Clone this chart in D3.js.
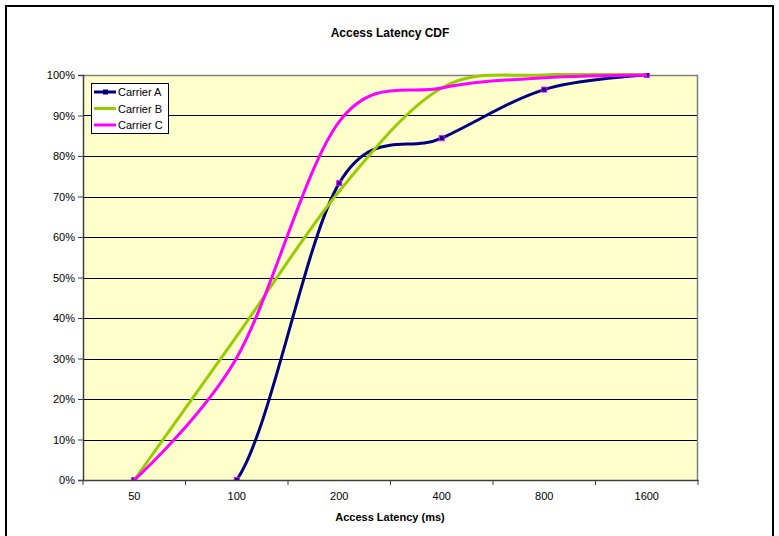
<!DOCTYPE html>
<html>
<head>
<meta charset="utf-8">
<script src="https://cdn.jsdelivr.net/npm/d3@7"></script>
<style>
  html, body { margin: 0; padding: 0; background: #fff; }
  svg { display: block; font-family: "Liberation Sans", Arial, sans-serif; }
</style>
</head>
<body>
<svg id="chart" width="779" height="536"></svg>
<script>
// ---- data ----
const categories = ["50", "100", "200", "400", "800", "1600"];
const carrierA = [0, 0, 0.733, 0.844, 0.964, 1.0];
const carrierB = [0, 0.355, 0.713, 0.968, 1.0, 1.0];
const carrierC = [0, 0.302, 0.885, 0.968, 0.993, 1.0];
const seriesNames = ["Carrier A", "Carrier B", "Carrier C"];
const seriesColors = ["#000080", "#99CC00", "#FF00FF"];
const yTicks = [0, 0.1, 0.2, 0.3, 0.4, 0.5, 0.6, 0.7, 0.8, 0.9, 1.0];
const title = "Access Latency CDF";
const xTitle = "Access Latency (ms)";

const series = [carrierA, carrierB, carrierC];

// ---- layout ----
const svg = d3.select("#chart");
const W = 779, H = 536;
const plot = { left: 83, right: 698, top: 75, bottom: 480 };

// outer border
svg.append("rect")
  .attr("x", 6).attr("y", 6).attr("width", 767).attr("height", 540)
  .attr("fill", "none").attr("stroke", "#000").attr("stroke-width", 2);

const x = d3.scaleBand().domain(categories).range([plot.left, plot.right]).padding(0);
const xc = d => x(d) + x.bandwidth() / 2;
const y = d3.scaleLinear().domain([0, 1]).range([plot.bottom, plot.top]);

// plot background
svg.append("rect")
  .attr("x", plot.left).attr("y", plot.top)
  .attr("width", plot.right - plot.left).attr("height", plot.bottom - plot.top)
  .attr("fill", "#FFFFCC");

// gridlines
svg.append("g").selectAll("line").data(yTicks.filter(t => t > 0 && t < 1)).join("line")
  .attr("x1", plot.left).attr("x2", plot.right)
  .attr("y1", d => Math.round(y(d)) + 0.5).attr("y2", d => Math.round(y(d)) + 0.5)
  .attr("stroke", "#000").attr("stroke-width", 1);

// plot border top/right
svg.append("path")
  .attr("d", `M${plot.left},${plot.top + 0.5}H${plot.right - 0.5}V${plot.bottom}`)
  .attr("fill", "none").attr("stroke", "#808080").attr("stroke-width", 1.5);

// clip
svg.append("clipPath").attr("id", "clip").append("rect")
  .attr("x", plot.left).attr("y", plot.top - 2)
  .attr("width", plot.right - plot.left).attr("height", plot.bottom - plot.top + 3);

const line = d3.line()
  .x((d, i) => xc(categories[i]))
  .y(d => y(d))
  .curve(d3.curveCardinal.tension(0));

const gLines = svg.append("g").attr("clip-path", "url(#clip)");
series.forEach((s, k) => {
  gLines.append("path")
    .datum(s)
    .attr("d", line)
    .attr("fill", "none")
    .attr("stroke", seriesColors[k])
    .attr("stroke-width", 3)
    .attr("stroke-linejoin", "round");
  if (k === 0) {
    gLines.selectAll(null).data(s).join("rect")
      .attr("x", (d, i) => xc(categories[i]) - 2.5)
      .attr("y", d => y(d) - 2.5)
      .attr("width", 5).attr("height", 5)
      .attr("fill", "#000080").attr("stroke", "#FF00FF").attr("stroke-width", 1);
  }
});

// y axis
const yAxis = svg.append("g")
  .attr("transform", `translate(${plot.left},0)`)
  .call(d3.axisLeft(y).tickValues(yTicks).tickFormat(d3.format(".0%")).tickSize(5).tickPadding(3));
yAxis.select(".domain").attr("stroke", "#404040").attr("stroke-width", 1.5);
yAxis.selectAll(".tick line").attr("stroke", "#404040");
yAxis.selectAll("text").attr("font-size", 11).attr("fill", "#000")
  .attr("font-family", "Liberation Sans, Arial, sans-serif");

// x axis
const xAxis = svg.append("g")
  .attr("transform", `translate(0,${plot.bottom})`)
  .call(d3.axisBottom(x).tickSize(0).tickPadding(12));
xAxis.select(".domain").attr("stroke", "#404040").attr("stroke-width", 1.5);
xAxis.selectAll("text").attr("font-size", 11).attr("fill", "#000")
  .attr("font-family", "Liberation Sans, Arial, sans-serif");
// category boundary ticks
const boundaries = categories.map(c => x(c)).concat([x.range()[1]]);
xAxis.selectAll(".bt").data(boundaries).join("line").attr("class", "bt")
  .attr("x1", d => d).attr("x2", d => d).attr("y1", 0).attr("y2", 5)
  .attr("stroke", "#404040").attr("stroke-width", 1);

// titles
svg.append("text").attr("x", 390).attr("y", 37).attr("text-anchor", "middle")
  .attr("font-size", 12).attr("font-weight", "bold").text(title);
svg.append("text").attr("x", 390).attr("y", 521).attr("text-anchor", "middle")
  .attr("font-size", 11).attr("font-weight", "bold").text(xTitle);

// legend
const lg = svg.append("g").attr("transform", "translate(91,83)");
lg.append("rect").attr("x", 0.5).attr("y", 0.5).attr("width", 77).attr("height", 50)
  .attr("fill", "#fff").attr("stroke", "#000").attr("stroke-width", 1);
seriesNames.forEach((n, k) => {
  const yy = 9 + k * 16.5;
  lg.append("line").attr("x1", 3).attr("x2", 25).attr("y1", yy).attr("y2", yy)
    .attr("stroke", seriesColors[k]).attr("stroke-width", 3);
  if (k === 0) {
    lg.append("rect").attr("x", 12).attr("y", yy - 2.5).attr("width", 5).attr("height", 5)
      .attr("fill", seriesColors[k]);
  }
  lg.append("text").attr("x", 27).attr("y", yy + 4).attr("font-size", 11).text(n);
});
</script>
</body>
</html>
